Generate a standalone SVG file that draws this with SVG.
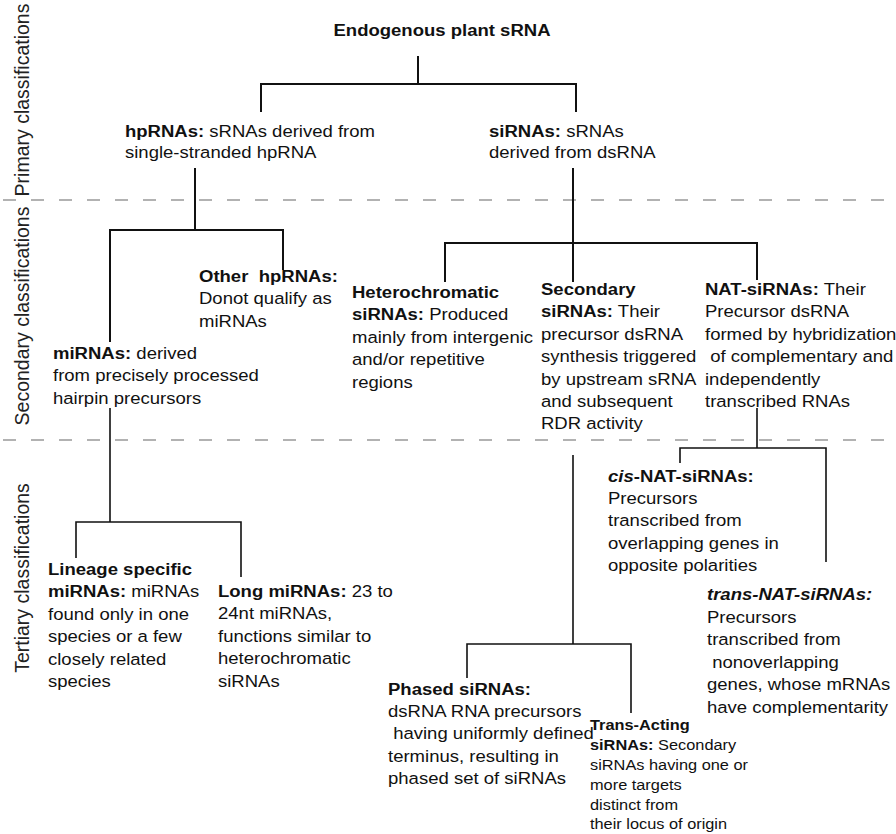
<svg xmlns="http://www.w3.org/2000/svg" width="896" height="834" viewBox="0 0 896 834">
<style>
text{font-family:"Liberation Sans",Arial,Helvetica,sans-serif;fill:#111;}
.n{font-size:17px}
.s{font-size:15px}
.b{font-weight:bold}
.bi{font-weight:bold;font-style:italic}
.pre{white-space:pre}
.side{font-size:19.5px;fill:#222}
.c path{stroke:#111;stroke-width:2;fill:none}
.c .thin{stroke-width:1.6}
.d{stroke:#999;stroke-width:1.3;stroke-dasharray:13 15;fill:none}
</style>
<rect width="896" height="834" fill="#fff"/>
<g id="dividers">
<path class="d" d="M3,200 H896"/>
<path class="d" d="M3,440 H896"/>
</g>
<g id="side-labels">
<text class="side" text-anchor="middle" transform="translate(29,100) rotate(-90)">Primary classifications</text>
<text class="side" text-anchor="middle" transform="translate(29,316) rotate(-90)">Secondary classifications</text>
<text class="side" text-anchor="middle" transform="translate(29,578) rotate(-90)">Tertiary classifications</text>
</g>
<g class="c" id="connectors">
<path d="M418,56 V84 M261,112 V84 H576 V112"/>
<path d="M195,168 V230 M110,342 V230 H283 V270"/>
<path d="M573,168 V282 M445,282 V243 H757 V280"/>
<path class="thin" d="M110,408 V522 M76,558 V522 H241 V577"/>
<path class="thin" d="M573,455 V644 M467,678 V644 H631 V713"/>
<path class="thin" d="M757,408 V448 M680,463 V448 H826 V562"/>
</g>
<g id="root">
<text class="n b" text-anchor="middle" transform="translate(442,36) scale(1.09,1)">Endogenous plant sRNA</text>
</g>
<g id="hpRNAs">
<text class="n" transform="translate(125,137) scale(1.09,1)"><tspan x="0" y="0" class="b">hpRNAs:</tspan><tspan> sRNAs derived from</tspan><tspan x="0" dy="21.5">single-stranded hpRNA</tspan></text>
</g>
<g id="siRNAs">
<text class="n" transform="translate(489,137) scale(1.09,1)"><tspan x="0" y="0" class="b">siRNAs:</tspan><tspan> sRNAs</tspan><tspan x="0" dy="21.5">derived from dsRNA</tspan></text>
</g>
<g id="other-hpRNAs">
<text class="n" transform="translate(199,282) scale(1.09,1)"><tspan x="0" y="0" class="b pre" xml:space="preserve">Other  hpRNAs:</tspan><tspan x="0" dy="22.4">Donot qualify as</tspan><tspan x="0" dy="22.4">miRNAs</tspan></text>
</g>
<g id="miRNAs">
<text class="n" transform="translate(53,359) scale(1.09,1)"><tspan x="0" y="0" class="b">miRNAs:</tspan><tspan> derived</tspan><tspan x="0" dy="22.4">from precisely processed</tspan><tspan x="0" dy="22.4">hairpin precursors</tspan></text>
</g>
<g id="heterochromatic-siRNAs">
<text class="n" transform="translate(352,298) scale(1.09,1)"><tspan x="0" y="0" class="b">Heterochromatic</tspan><tspan x="0" dy="22.4" class="b">siRNAs:</tspan><tspan> Produced</tspan><tspan x="0" dy="22.4">mainly from intergenic</tspan><tspan x="0" dy="22.4">and/or repetitive</tspan><tspan x="0" dy="22.4">regions</tspan></text>
</g>
<g id="secondary-siRNAs">
<text class="n" transform="translate(541,295) scale(1.09,1)"><tspan x="0" y="0" class="b">Secondary</tspan><tspan x="0" dy="22.4" class="b">siRNAs:</tspan><tspan> Their</tspan><tspan x="0" dy="22.4">precursor dsRNA</tspan><tspan x="0" dy="22.4">synthesis triggered</tspan><tspan x="0" dy="22.4">by upstream sRNA</tspan><tspan x="0" dy="22.4">and subsequent</tspan><tspan x="0" dy="22.4">RDR activity</tspan></text>
</g>
<g id="NAT-siRNAs">
<text class="n" transform="translate(705,295) scale(1.09,1)"><tspan x="0" y="0" class="b">NAT-siRNAs:</tspan><tspan> Their</tspan><tspan x="0" dy="22.4">Precursor dsRNA</tspan><tspan x="0" dy="22.4">formed by hybridization</tspan><tspan x="0" dy="22.4"> of complementary and</tspan><tspan x="0" dy="22.4">independently</tspan><tspan x="0" dy="22.4">transcribed RNAs</tspan></text>
</g>
<g id="cis-NAT-siRNAs">
<text class="n" transform="translate(608,482) scale(1.09,1)"><tspan x="0" y="0" class="bi">cis</tspan><tspan class="b">-NAT-siRNAs:</tspan><tspan x="0" dy="22.2">Precursors</tspan><tspan x="0" dy="22.2">transcribed from</tspan><tspan x="0" dy="22.2">overlapping genes in</tspan><tspan x="0" dy="22.2">opposite polarities</tspan></text>
</g>
<g id="trans-NAT-siRNAs">
<text class="n" transform="translate(707,600) scale(1.09,1)"><tspan x="0" y="0" class="bi">trans-NAT-siRNAs:</tspan><tspan x="0" dy="22.6">Precursors</tspan><tspan x="0" dy="22.6">transcribed from</tspan><tspan x="0" dy="22.6"> nonoverlapping</tspan><tspan x="0" dy="22.6">genes, whose mRNAs</tspan><tspan x="0" dy="22.6">have complementarity</tspan></text>
</g>
<g id="lineage-specific-miRNAs">
<text class="n" transform="translate(48,575) scale(1.09,1)"><tspan x="0" y="0" class="b">Lineage specific</tspan><tspan x="0" dy="22.4" class="b">miRNAs:</tspan><tspan> miRNAs</tspan><tspan x="0" dy="22.4">found only in one</tspan><tspan x="0" dy="22.4">species or a few</tspan><tspan x="0" dy="22.4">closely related</tspan><tspan x="0" dy="22.4">species</tspan></text>
</g>
<g id="long-miRNAs">
<text class="n" transform="translate(218,597) scale(1.09,1)"><tspan x="0" y="0" class="b">Long miRNAs:</tspan><tspan> 23 to</tspan><tspan x="0" dy="22.4">24nt miRNAs,</tspan><tspan x="0" dy="22.4">functions similar to</tspan><tspan x="0" dy="22.4">heterochromatic</tspan><tspan x="0" dy="22.4">siRNAs</tspan></text>
</g>
<g id="phased-siRNAs">
<text class="n" transform="translate(388,695) scale(1.09,1)"><tspan x="0" y="0" class="b">Phased siRNAs:</tspan><tspan x="0" dy="22.2">dsRNA RNA precursors</tspan><tspan x="0" dy="22.2"> having uniformly defined</tspan><tspan x="0" dy="22.2">terminus, resulting in</tspan><tspan x="0" dy="22.2">phased set of siRNAs</tspan></text>
</g>
<g id="trans-acting-siRNAs">
<text class="s" transform="translate(590,730) scale(1.09,1)"><tspan x="0" y="0" class="b">Trans-Acting</tspan><tspan x="0" dy="19.9" class="b">siRNAs:</tspan><tspan> Secondary</tspan><tspan x="0" dy="19.9">siRNAs having one or</tspan><tspan x="0" dy="19.9">more targets</tspan><tspan x="0" dy="19.9">distinct from</tspan><tspan x="0" dy="19.9">their locus of origin</tspan></text>
</g>
</svg>
